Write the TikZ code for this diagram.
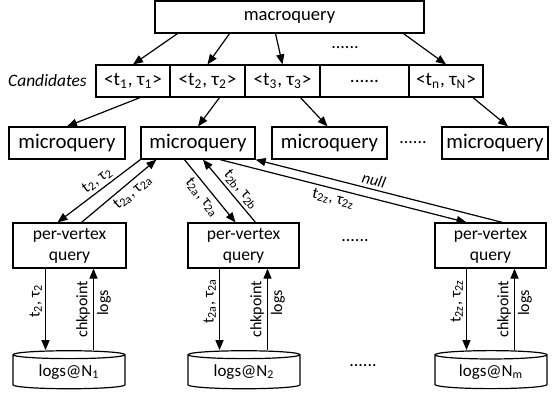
\documentclass[tikz,border=0pt]{standalone}
\usepackage{fontspec}
\setmainfont{Carlito}
\usetikzlibrary{arrows.meta,shapes.geometric}
\newcommand{\ix}[1]{\textsubscript{#1}}
\tikzset{
  box/.style={draw, line width=0.6pt, inner sep=0pt, minimum height=16pt},
  cell/.style={box, font=\fontsize{9.6}{11}\selectfont},
  micro/.style={box, font=\fontsize{10.4}{12}\selectfont},
  pvq/.style={box, minimum height=22.5pt, align=center,
    font=\fontsize{8.8}{10.5}\selectfont},
  logdb/.style={draw, line width=0.6pt, cylinder, shape border rotate=90,
    aspect=0.13, minimum width=56pt, minimum height=19pt, inner sep=0pt,
    font=\fontsize{8.5}{10}\selectfont},
  lbl/.style={font=\fontsize{8}{9}\selectfont, inner sep=1.5pt},
  dots/.style={font=\fontsize{9}{10}\selectfont},
  >={Triangle[length=5pt,width=4pt]}
}
\begin{document}
\begin{tikzpicture}[x=0.5pt,y=-0.5pt,line width=0.6pt]
  \useasboundingbox (0,0) rectangle (555,393);
  \node[box, minimum width=134.5pt, font=\fontsize{9.3}{11}\selectfont]
    (macro) at (289.5,17) {macroquery};
  \node[dots] at (345,48) {......};

  \node[font=\fontsize{8.7}{10}\selectfont\itshape] (cand) at (47.5,81) {Candidates};
  \node[cell, minimum width=37pt] (c1) at (133,81) {<t\ix{1}, τ\ix{1}>};
  \node[cell, minimum width=37.5pt] (c2) at (207.5,81) {<t\ix{2}, τ\ix{2}>};
  \node[cell, minimum width=37.5pt] (c3) at (282.5,81) {<t\ix{3}, τ\ix{3}>};
  \node[cell, minimum width=44.5pt] (c4) at (364.5,81) {......};
  \node[cell, minimum width=37pt] (c5) at (446,81) {<t\ix{n}, τ\ix{N}>};

  \draw[->] ([xshift=-56pt]macro.south) -- (c1.north);
  \draw[->] ([xshift=-30pt]macro.south) -- (c2.north);
  \draw[->] ([xshift=-7pt]macro.south) -- (c3.north);
  \draw[->] ([xshift=57pt]macro.south) -- (c5.north);

  \node[micro, minimum width=58pt] (m1) at (67,143) {microquery};
  \node[micro, minimum width=57pt] (m2) at (198,143) {microquery};
  \node[micro, minimum width=57.5pt] (m3) at (329.5,143) {microquery};
  \node[dots] at (413,143) {......};
  \node[micro, minimum width=53pt] (m4) at (495,143) {microquery};

  \draw[->] ([xshift=3.5pt]c1.south) -- (m1.north);
  \draw[->] ([xshift=6pt]c2.south) -- (m2.north);
  \draw[->] ([xshift=9pt]c3.south) -- ([xshift=-1pt]m3.north);
  \draw[->] ([xshift=13.5pt]c5.south) -- ([xshift=6.5pt]m4.north);

  \node[pvq, minimum width=56.5pt] (p1) at (69.5,245.5) {per-vertex\\query};
  \node[pvq, minimum width=55.5pt] (p2) at (243.5,245.5) {per-vertex\\query};
  \node[dots] at (355,241) {......};
  \node[pvq, minimum width=55.5pt] (p3) at (490.5,245.5) {per-vertex\\query};

  \draw[->] (m2.south west) -- ([xshift=-6pt]p1.north)
    node[lbl, sloped, above, pos=.45] {t\ix{2}, τ\ix{2}};
  \draw[->] ([xshift=6pt]p1.north) -- ([xshift=8pt]m2.south west)
    node[lbl, sloped, below, pos=.6] {t\ix{2a}, τ\ix{2a}};
  \draw[->] ([xshift=22pt]m2.south west) -- ([xshift=-4pt]p2.north)
    node[lbl, sloped, below, pos=.5] {t\ix{2a}, τ\ix{2a}};
  \draw[->] ([xshift=6pt]p2.north) -- ([xshift=2.5pt]m2.south)
    node[lbl, sloped, above, pos=.42] {t\ix{2b}, τ\ix{2b}};
  \draw[->] ([xshift=11pt]m2.south) -- ([xshift=-12pt]p3.north)
    node[lbl, sloped, below, pos=.47] {t\ix{2z}, τ\ix{2z}};
  \draw[->] ([xshift=6pt]p3.north) -- (m2.south east)
    node[lbl, sloped, above, pos=.53] {\itshape null};

  \node[logdb] (l1) at (69,372) {logs@N\ix{1}};
  \node[logdb] (l2) at (244,372) {logs@N\ix{2}};
  \node[dots] at (363,366) {......};
  \node[logdb] (l3) at (491,372) {logs@N\ix{m}};

  \foreach \p/\l/\t in {p1/l1/2, p2/l2/2a, p3/l3/2z} {
    \draw[->] ([xshift=-12pt]\p.south) -- ([xshift=-12pt]\p.south |- \l.north)
      node[lbl, rotate=90, above, pos=.4] {t\ix{\t}, τ\ix{\t}};
    \draw[->] ([xshift=12pt]\p.south |- \l.north) -- ([xshift=12pt]\p.south)
      node[lbl, sloped, above, pos=.5] {chkpoint}
      node[lbl, sloped, below, pos=.58] {logs};
  }
\end{tikzpicture}
\end{document}
